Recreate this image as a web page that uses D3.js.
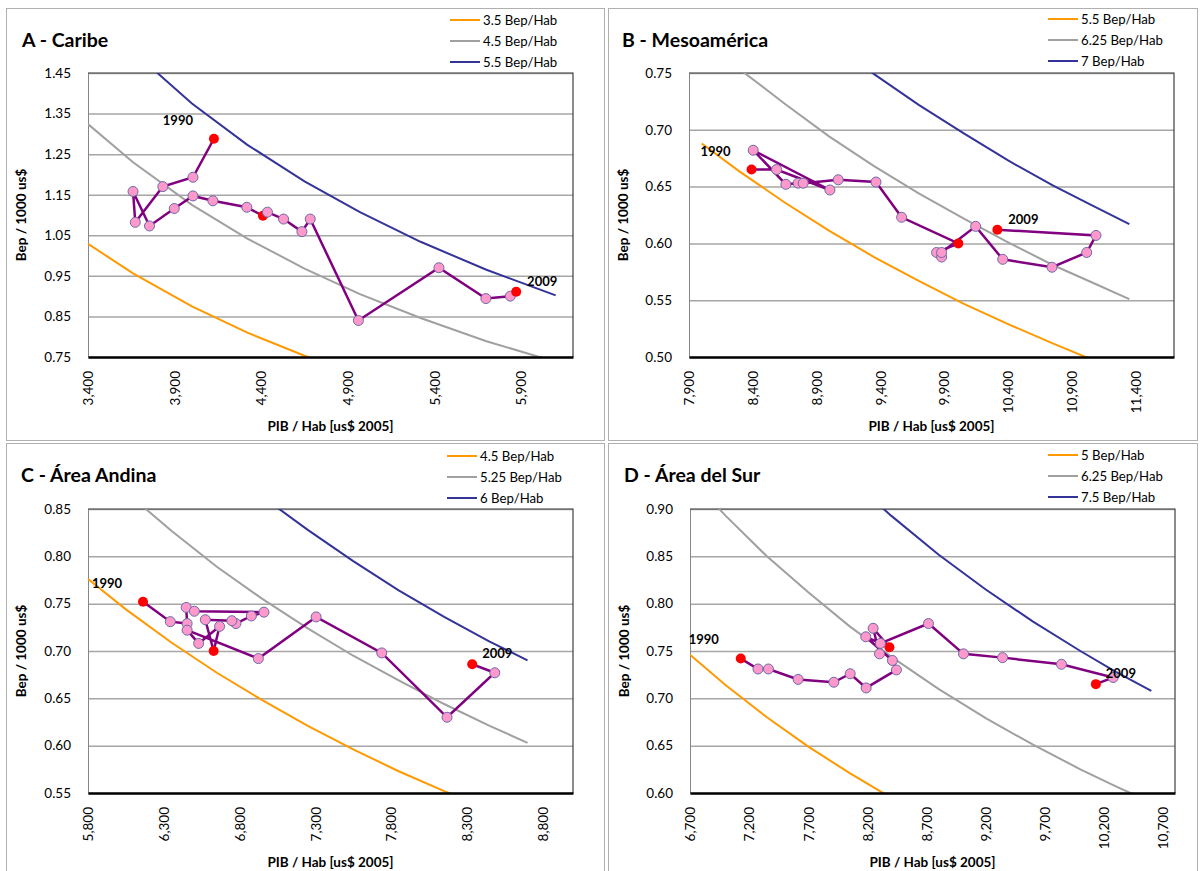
<!DOCTYPE html>
<html>
<head>
<meta charset="utf-8">
<script src="https://cdn.jsdelivr.net/npm/d3@7"></script>
<style>
  body { margin: 0; background: #fff; }
  text { font-family: Lato, "Open Sans", sans-serif; fill: #000; }
</style>
</head>
<body>
<svg id="chart" width="1200" height="871"></svg>
<script>
// ---- A - Caribe
const caribePib = [4127, 4006, 3832, 3673, 3660, 3755, 3898, 4006, 4121, 4317, 4410, 4436, 4529, 4635, 4683, 4961, 5426, 5697, 5838, 5872];
const caribeBep = [1.288, 1.193, 1.170, 1.082, 1.158, 1.073, 1.116, 1.147, 1.135, 1.119, 1.098, 1.107, 1.090, 1.059, 1.090, 0.840, 0.970, 0.894, 0.900, 0.911];
const caribeCurveX = [3400, 3660, 4000, 4320, 4650, 4970, 5320, 5700, 6100];
const caribeCurves = [
  [1.029, 0.956, 0.875, 0.810, 0.753, 0.704, 0.658, 0.614, 0.574],
  [1.324, 1.230, 1.125, 1.042, 0.968, 0.905, 0.846, 0.789, 0.738],
  [1.618, 1.503, 1.375, 1.273, 1.183, 1.107, 1.034, 0.965, 0.902]
];
const caribeLegend = ["3.5 Bep/Hab", "4.5 Bep/Hab", "5.5 Bep/Hab"];
const caribeXTicks = [3400, 3900, 4400, 4900, 5400, 5900];
const caribeYTicks = [0.75, 0.85, 0.95, 1.05, 1.15, 1.25, 1.35, 1.45];

// ---- B - Mesoamérica
const mesoPib = [8390, 8586, 9004, 8403, 8659, 8755, 8795, 9069, 9365, 9566, 10010, 9840, 9879, 9879, 10146, 10358, 10744, 11016, 11089, 10316];
const mesoBep = [0.665, 0.665, 0.647, 0.682, 0.652, 0.653, 0.653, 0.656, 0.654, 0.623, 0.600, 0.592, 0.588, 0.592, 0.615, 0.586, 0.579, 0.592, 0.607, 0.612];
const mesoCurveX = [8000, 8300, 8650, 9000, 9350, 9700, 10050, 10400, 10750, 11050, 11350];
const mesoCurves = [
  [0.688, 0.663, 0.636, 0.611, 0.588, 0.567, 0.547, 0.529, 0.512, 0.498, 0.485],
  [0.781, 0.753, 0.723, 0.694, 0.668, 0.644, 0.622, 0.601, 0.581, 0.566, 0.551],
  [0.875, 0.843, 0.809, 0.778, 0.749, 0.722, 0.697, 0.673, 0.651, 0.634, 0.617]
];
const mesoLegend = ["5.5 Bep/Hab", "6.25 Bep/Hab", "7 Bep/Hab"];
const mesoXTicks = [7900, 8400, 8900, 9400, 9900, 10400, 10900, 11400];
const mesoYTicks = [0.50, 0.55, 0.60, 0.65, 0.70, 0.75];

// ---- C - Área Andina
const andinaPib = [6163, 6343, 6454, 6448, 6502, 6961, 6878, 6776, 6749, 6574, 6629, 6668, 6530, 6454, 6924, 7305, 7738, 8169, 8484, 8335];
const andinaBep = [0.752, 0.731, 0.729, 0.746, 0.742, 0.741, 0.737, 0.729, 0.732, 0.733, 0.700, 0.726, 0.708, 0.722, 0.692, 0.736, 0.698, 0.630, 0.677, 0.686];
const andinaCurveX = [5800, 6050, 6350, 6650, 6950, 7250, 7550, 7850, 8150, 8450, 8700];
const andinaCurves = [
  [0.776, 0.744, 0.709, 0.677, 0.648, 0.621, 0.596, 0.573, 0.552, 0.533, 0.517],
  [0.905, 0.868, 0.827, 0.789, 0.755, 0.724, 0.695, 0.669, 0.644, 0.621, 0.603],
  [1.034, 0.992, 0.945, 0.902, 0.863, 0.828, 0.795, 0.764, 0.736, 0.710, 0.690]
];
const andinaLegend = ["4.5 Bep/Hab", "5.25 Bep/Hab", "6 Bep/Hab"];
const andinaXTicks = [5800, 6300, 6800, 7300, 7800, 8300, 8800];
const andinaYTicks = [0.55, 0.60, 0.65, 0.70, 0.75, 0.80, 0.85];

// ---- D - Área del Sur
const surPib = [7129, 7275, 7363, 7614, 7916, 8054, 8189, 8445, 8411, 8186, 8386, 8248, 8302, 8310, 8716, 9012, 9342, 9840, 10277, 10131];
const surBep = [0.742, 0.731, 0.731, 0.720, 0.717, 0.726, 0.711, 0.730, 0.740, 0.765, 0.754, 0.774, 0.747, 0.758, 0.779, 0.747, 0.743, 0.736, 0.722, 0.715];
const surCurveX = [6700, 7000, 7350, 7700, 8050, 8400, 8800, 9200, 9600, 10000, 10300, 10600];
const surCurves = [
  [0.746, 0.714, 0.680, 0.649, 0.621, 0.595, 0.568, 0.543, 0.521, 0.500, 0.485, 0.472],
  [0.933, 0.893, 0.850, 0.812, 0.776, 0.744, 0.710, 0.679, 0.651, 0.625, 0.607, 0.590],
  [1.119, 1.071, 1.020, 0.974, 0.932, 0.893, 0.852, 0.815, 0.781, 0.750, 0.728, 0.708]
];
const surLegend = ["5 Bep/Hab", "6.25 Bep/Hab", "7.5 Bep/Hab"];
const surXTicks = [6700, 7200, 7700, 8200, 8700, 9200, 9700, 10200, 10700];
const surYTicks = [0.60, 0.65, 0.70, 0.75, 0.80, 0.85, 0.90];

const redIdx = [0, 10, 19]; // 1990, 2000, 2009
const curveColors = ["#ff9900", "#a0a0a0", "#333399"];

const panels = [
  { title: "A - Caribe", pib: caribePib, bep: caribeBep, cx: caribeCurveX, curves: caribeCurves, legend: caribeLegend,
    xTicks: caribeXTicks, yTicks: caribeYTicks, xDom: [3400, 6200], yDom: [0.75, 1.45],
    frame: [6, 8, 598, 432], plot: { l: 88, r: 573, t: 73, b: 357 }, titleAt: [22, 47], legAt: [450, 20], yTitleX: 22,
    lab1990: [-36, -18], lab2009: [26, -10] },
  { title: "B - Mesoamérica", pib: mesoPib, bep: mesoBep, cx: mesoCurveX, curves: mesoCurves, legend: mesoLegend,
    xTicks: mesoXTicks, yTicks: mesoYTicks, xDom: [7900, 11700], yDom: [0.5, 0.75],
    frame: [608, 8, 589, 432], plot: { l: 689, r: 1174, t: 73, b: 357 }, titleAt: [622, 47], legAt: [1048, 19], yTitleX: 624,
    lab1990: [-36, -18], lab2009: [26, -10] },
  { title: "C - Área Andina", pib: andinaPib, bep: andinaBep, cx: andinaCurveX, curves: andinaCurves, legend: andinaLegend,
    xTicks: andinaXTicks, yTicks: andinaYTicks, xDom: [5800, 9000], yDom: [0.55, 0.85],
    frame: [6, 443, 598, 440], plot: { l: 88, r: 573, t: 509, b: 793 }, titleAt: [21, 482], legAt: [447, 456], yTitleX: 22,
    lab1990: [-36, -18], lab2009: [25, -11] },
  { title: "D - Área del Sur", pib: surPib, bep: surBep, cx: surCurveX, curves: surCurves, legend: surLegend,
    xTicks: surXTicks, yTicks: surYTicks, xDom: [6700, 10800], yDom: [0.6, 0.9],
    frame: [608, 443, 589, 440], plot: { l: 690, r: 1175, t: 509, b: 793 }, titleAt: [624, 482], legAt: [1048, 455], yTitleX: 625,
    lab1990: [-37, -19], lab2009: [25, -11] }
];

const svg = d3.select("#chart");

panels.forEach((p, pi) => {
  const g = svg.append("g");
  const w = p.plot.r - p.plot.l;

  g.append("rect")
    .attr("x", p.frame[0] + 0.5).attr("y", p.frame[1] + 0.5)
    .attr("width", p.frame[2]).attr("height", p.frame[3])
    .attr("fill", "none").attr("stroke", "#b0b0b0")

  const x = d3.scaleLinear().domain(p.xDom).range([p.plot.l, p.plot.r]);
  const y = d3.scaleLinear().domain(p.yDom).range([p.plot.b, p.plot.t]);

  // title
  g.append("text")
    .attr("x", p.titleAt[0]).attr("y", p.titleAt[1])
    .attr("font-size", 19.5).attr("font-weight", "bold")
    .text(p.title)

  // legend
  p.legend.forEach((name, i) => {
    const ly = p.legAt[1] + i * 21;
    g.append("line")
      .attr("x1", p.legAt[0]).attr("x2", p.legAt[0] + 30)
      .attr("y1", ly).attr("y2", ly)
      .attr("stroke", curveColors[i]).attr("stroke-width", 2)
    g.append("text")
      .attr("x", p.legAt[0] + 33).attr("y", ly + 4.5)
      .attr("font-size", 13.2)
      .text(name)
  });

  // gridlines
  g.append("g")
    .attr("transform", `translate(${p.plot.l},0)`)
    .call(d3.axisLeft(y).tickValues(p.yTicks).tickSize(-w).tickFormat(""))
    .call(a => {
      a.select(".domain").remove();
      a.selectAll("line").attr("stroke", "#a6a6a6").attr("stroke-width", 1.5);
    })

  // y axis labels
  g.append("g")
    .attr("transform", `translate(${p.plot.l},0)`)
    .call(d3.axisLeft(y).tickValues(p.yTicks).tickSize(0).tickPadding(17).tickFormat(d3.format(".2f")))
    .call(a => {
      a.select(".domain").attr("stroke", "#868686");
      a.selectAll("text").attr("font-size", 13.5).attr("font-family", "Lato, 'Open Sans', sans-serif").attr("fill", "#000");
    })

  // plot border (top/right)
  g.append("path")
    .attr("d", `M${p.plot.l},${p.plot.t}H${p.plot.r}V${p.plot.b}`)
    .attr("fill", "none").attr("stroke", "#404040").attr("stroke-width", 1.2)

  // clip for curves
  const clipId = "clip" + pi;
  g.append("clipPath").attr("id", clipId)
    .append("rect")
    .attr("x", p.plot.l).attr("y", p.plot.t)
    .attr("width", w).attr("height", p.plot.b - p.plot.t)

  const curveLine = d3.line()
    .x((d, i) => x(p.cx[i]))
    .y(d => y(d))

  g.append("g").attr("clip-path", `url(#${clipId})`)
    .selectAll("path")
    .data(p.curves)
    .enter()
    .append("path")
    .attr("d", curveLine)
    .attr("fill", "none")
    .attr("stroke", (d, i) => curveColors[i])
    .attr("stroke-width", 2)

  // data path
  const pts = p.pib.map((v, i) => ({ pib: v, bep: p.bep[i], i }));
  g.append("path")
    .datum(pts)
    .attr("d", d3.line().x(d => x(d.pib)).y(d => y(d.bep)))
    .attr("fill", "none")
    .attr("stroke", "#800080")
    .attr("stroke-width", 2.5)

  // bottom axis
  g.append("g")
    .attr("transform", `translate(0,${p.plot.b})`)
    .call(d3.axisBottom(x).tickValues(p.xTicks).tickSize(0).tickFormat(d3.format(",")))
    .call(a => {
      a.select(".domain").attr("stroke", "#000").attr("stroke-width", 2.5);
      a.selectAll("text")
        .attr("transform", "rotate(-90)")
        .attr("text-anchor", "end")
        .attr("x", -14).attr("y", 0).attr("dy", "0.35em")
        .attr("font-size", 13.5).attr("font-family", "Lato, 'Open Sans', sans-serif").attr("fill", "#000");
    })

  // markers
  g.selectAll("circle.pt")
    .data(pts)
    .enter()
    .append("circle")
    .attr("class", "pt")
    .attr("cx", d => x(d.pib))
    .attr("cy", d => y(d.bep))
    .attr("r", 5)
    .attr("fill", d => redIdx.includes(d.i) ? "#ff0000" : "#ff99cc")
    .attr("stroke", d => redIdx.includes(d.i) ? "none" : "#6a6aa8")
    .attr("stroke-width", 1)

  // year labels
  const first = pts[0], last = pts[pts.length - 1];
  g.append("text")
    .attr("x", x(first.pib) + p.lab1990[0]).attr("y", y(first.bep) + p.lab1990[1] + 4.5)
    .attr("text-anchor", "middle").attr("font-size", 13).attr("font-weight", "bold")
    .text("1990")
  g.append("text")
    .attr("x", x(last.pib) + p.lab2009[0]).attr("y", y(last.bep) + p.lab2009[1] + 4.5)
    .attr("text-anchor", "middle").attr("font-size", 13).attr("font-weight", "bold")
    .text("2009")

  // axis titles
  g.append("text")
    .attr("x", (p.plot.l + p.plot.r) / 2).attr("y", p.plot.b + 74)
    .attr("text-anchor", "middle").attr("font-size", 13.5).attr("font-weight", "bold")
    .text("PIB / Hab [us$ 2005]")
  g.append("text")
    .attr("transform", `translate(${p.yTitleX + 4},${(p.plot.t + p.plot.b) / 2}) rotate(-90)`)
    .attr("text-anchor", "middle").attr("font-size", 13.5).attr("font-weight", "bold")
    .text("Bep / 1000 us$")
});
</script>
</body>
</html>
